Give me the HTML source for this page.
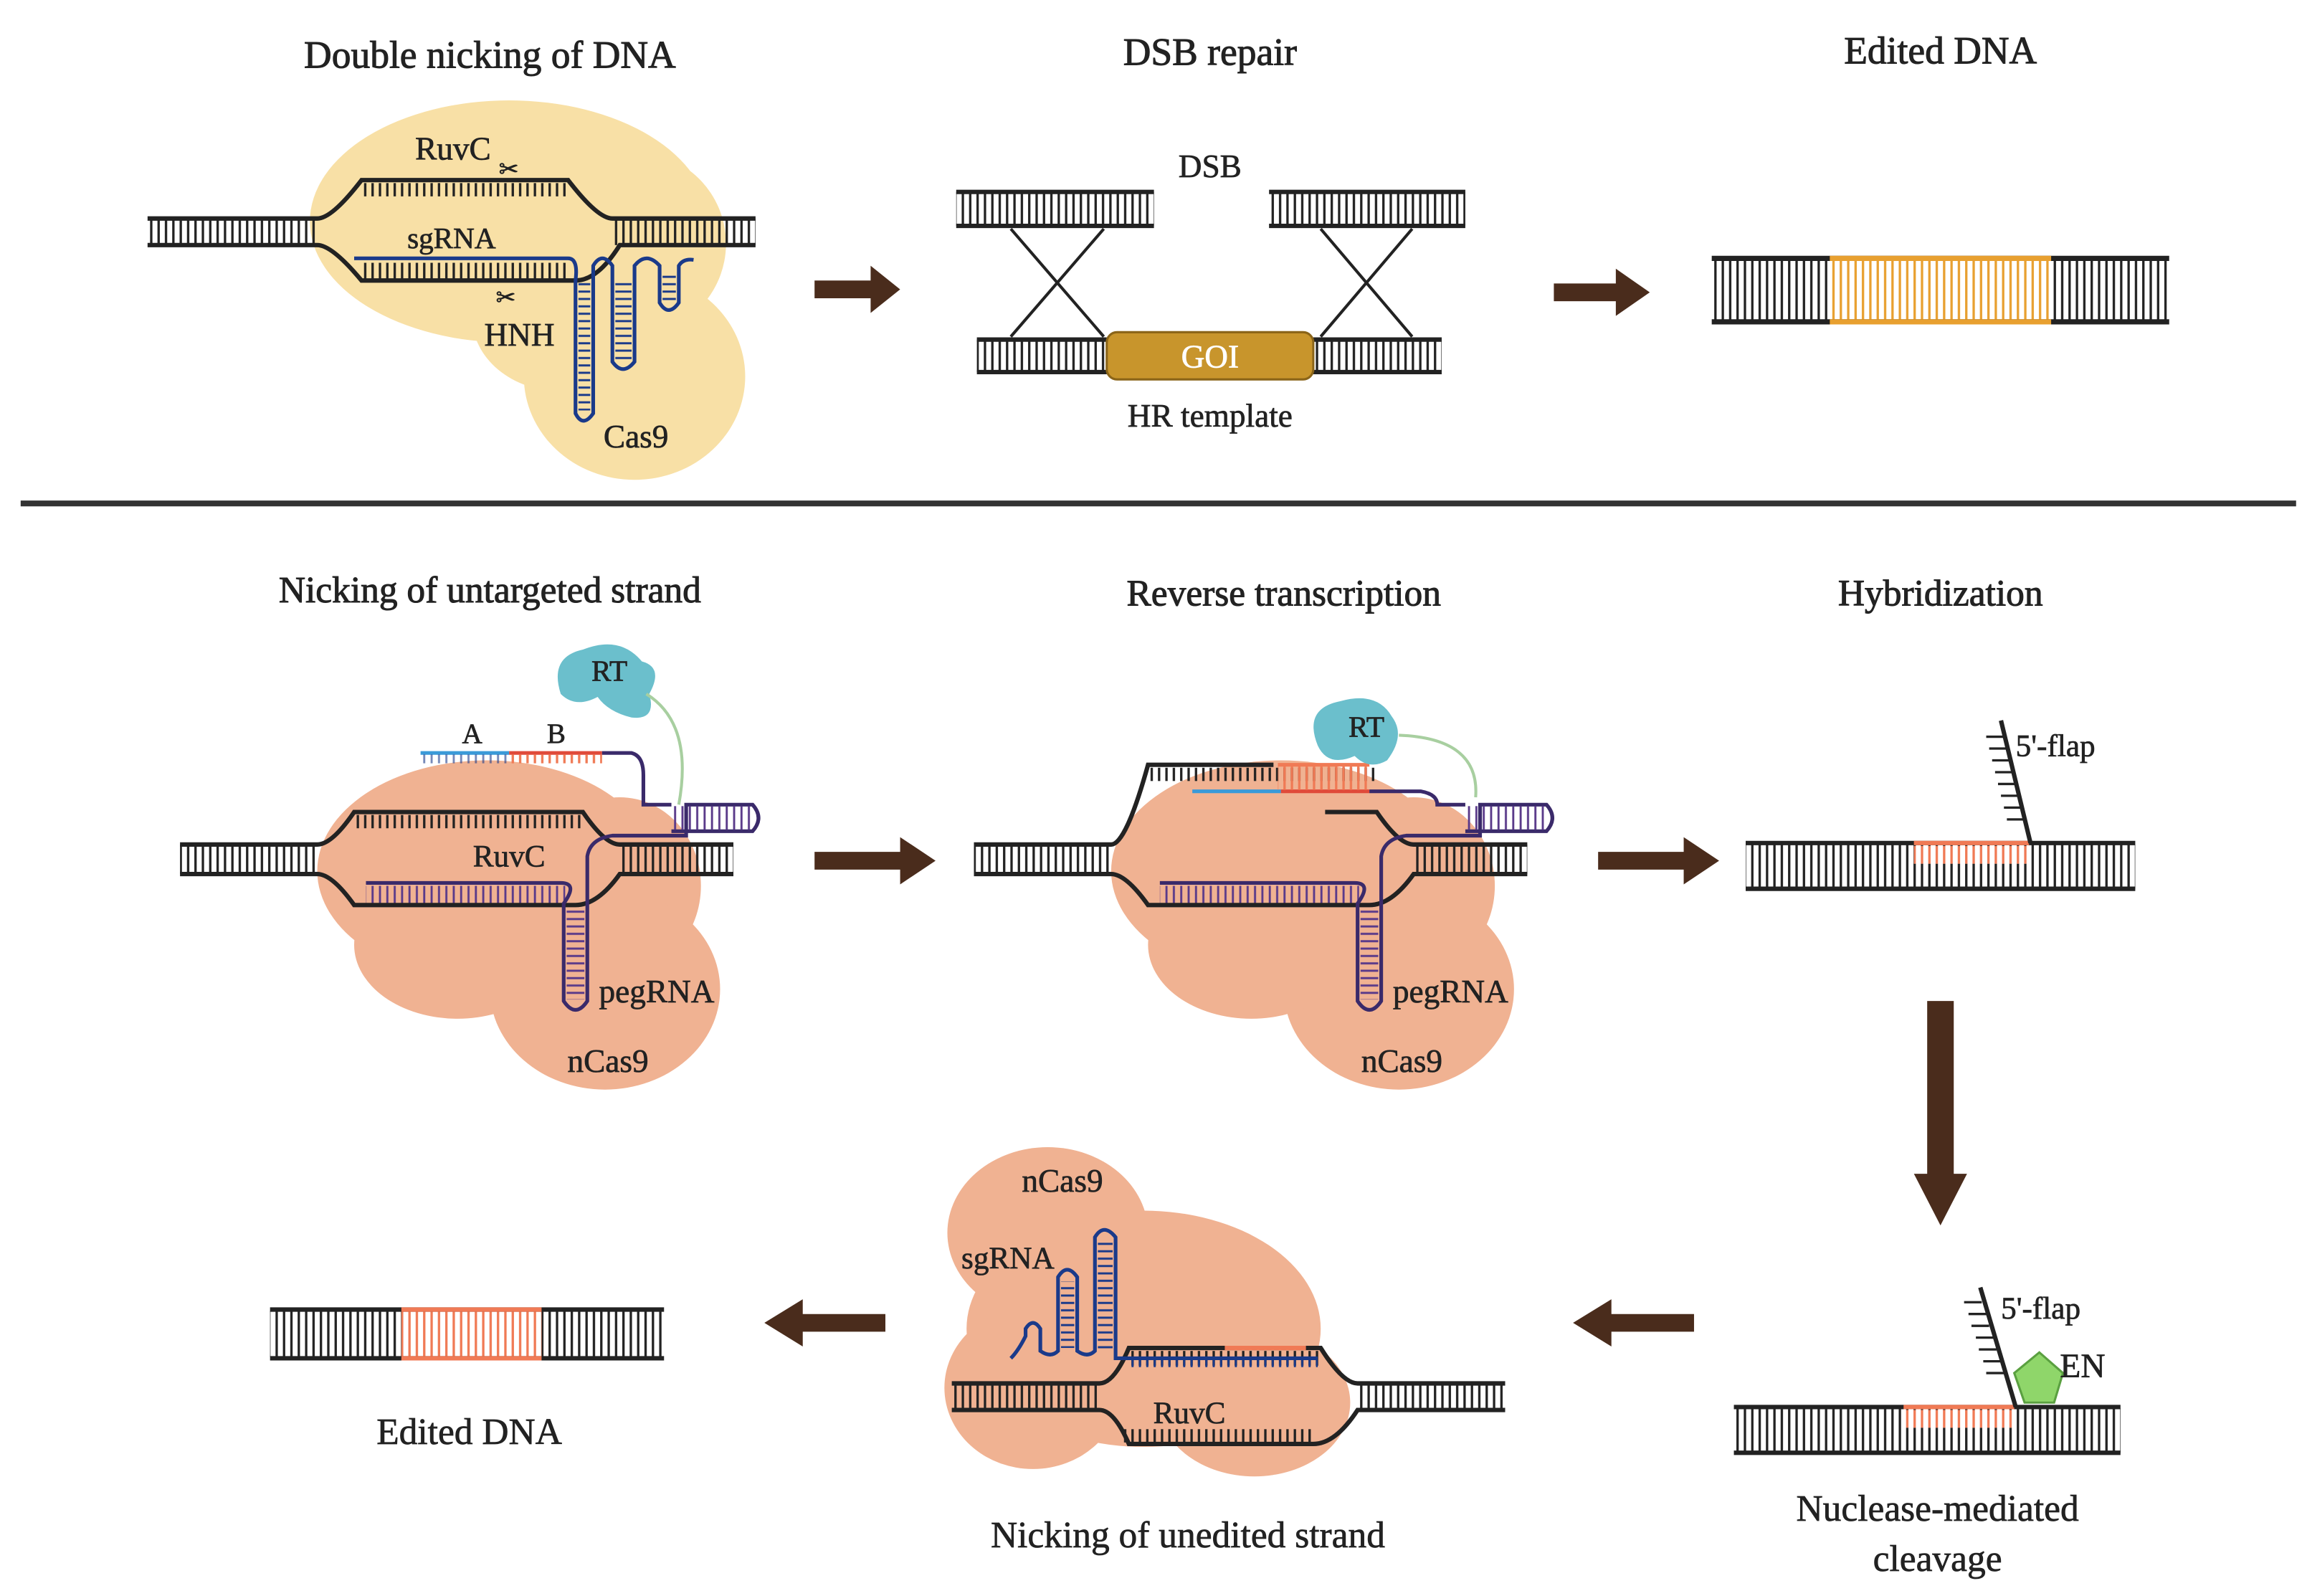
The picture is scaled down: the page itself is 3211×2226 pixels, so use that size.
<!DOCTYPE html>
<html><head><meta charset="utf-8"><style>
html,body{margin:0;padding:0;background:#fff;}
svg{display:block;}
text{font-family:"Liberation Serif",serif;fill:#222;stroke:#222;stroke-width:0.35;}
.t{font-size:26px;stroke-width:0.5;}
</style></head><body>
<svg width="3211" height="2226" viewBox="0 0 1560 1081" preserveAspectRatio="none" xmlns="http://www.w3.org/2000/svg">
<defs>
<pattern id="r" patternUnits="userSpaceOnUse" width="5" height="200"><line x1="2.5" y1="0" x2="2.5" y2="200" stroke="#222" stroke-width="1.6"/></pattern>
<pattern id="ro" patternUnits="userSpaceOnUse" width="5" height="200"><line x1="2.5" y1="0" x2="2.5" y2="200" stroke="#e8a030" stroke-width="1.6"/></pattern>
<pattern id="rr" patternUnits="userSpaceOnUse" width="5" height="200"><line x1="2.5" y1="0" x2="2.5" y2="200" stroke="#f07a55" stroke-width="1.6"/></pattern>
<pattern id="rb" patternUnits="userSpaceOnUse" width="5" height="200"><line x1="2.5" y1="0" x2="2.5" y2="200" stroke="#1a3a8a" stroke-width="1.4"/></pattern>
<pattern id="rp" patternUnits="userSpaceOnUse" width="5" height="200"><line x1="2.5" y1="0" x2="2.5" y2="200" stroke="#5a3a8a" stroke-width="1.4"/></pattern>
<pattern id="rh" patternUnits="userSpaceOnUse" width="200" height="5"><line x1="0" y1="2.5" x2="200" y2="2.5" stroke="#1a3a8a" stroke-width="1.4"/></pattern>
<pattern id="rhp" patternUnits="userSpaceOnUse" width="200" height="5"><line x1="0" y1="2.5" x2="200" y2="2.5" stroke="#5a3a8a" stroke-width="1.4"/></pattern>
</defs>

<!-- ===== TOP ===== -->
<text class="t" x="332" y="46" text-anchor="middle">Double nicking of DNA</text>
<text class="t" x="820" y="44" text-anchor="middle">DSB repair</text>
<text class="t" x="1315" y="43" text-anchor="middle">Edited DNA</text>

<g fill="#f8e0a6">
<ellipse cx="345" cy="150" rx="135" ry="82"/>
<ellipse cx="430" cy="165" rx="62" ry="62"/>
<ellipse cx="430" cy="255" rx="75" ry="70"/>
<ellipse cx="380" cy="215" rx="60" ry="50"/>
</g>
<rect x="100" y="148" width="115" height="18" fill="url(#r)"/>
<rect x="415" y="148" width="97" height="18" fill="url(#r)"/>
<rect x="245" y="124" width="140" height="9" fill="url(#r)"/>
<rect x="245" y="178" width="140" height="11" fill="url(#r)"/>
<path d="M100 148H215Q225 148 245 122H385Q405 148 415 148H512" fill="none" stroke="#222" stroke-width="3"/>
<path d="M100 166H215Q225 166 245 190H390Q405 190 420 166H512" fill="none" stroke="#222" stroke-width="3"/>
<path d="M240 175H385Q392 175 390 190V280Q395 290 402 280V180Q408 170 415 180V245Q422 255 430 245V180Q438 170 447 180V205Q453 215 460 205V180Q463 175 470 176" fill="none" stroke="#1a3a8a" stroke-width="2.5"/>
<rect x="392" y="190" width="8" height="88" fill="url(#rh)"/>
<rect x="417" y="190" width="11" height="55" fill="url(#rh)"/>
<rect x="449" y="185" width="9" height="20" fill="url(#rh)"/>
<text x="307" y="108" font-size="22" text-anchor="middle">RuvC</text>
<text x="306" y="168" font-size="20" text-anchor="middle">sgRNA</text>
<text x="352" y="234" font-size="22" text-anchor="middle">HNH</text>
<text x="431" y="303" font-size="22" text-anchor="middle">Cas9</text>
<text x="338" y="120" font-size="16" fill="#444">✂</text>
<text x="336" y="207" font-size="16" fill="#444">✂</text>

<polygon points="552,190 590,190 590,180 610,196 590,212 590,202 552,202" fill="#4a2c1c"/>
<polygon points="1053,192 1095,192 1095,182 1118,198 1095,214 1095,204 1053,204" fill="#4a2c1c"/>

<text x="820" y="120" font-size="22" text-anchor="middle">DSB</text>
<rect x="648" y="130" width="134" height="23" fill="url(#r)"/>
<line x1="648" y1="130" x2="782" y2="130" stroke="#222" stroke-width="3"/>
<line x1="648" y1="153" x2="782" y2="153" stroke="#222" stroke-width="3"/>
<rect x="860" y="130" width="133" height="23" fill="url(#r)"/>
<line x1="860" y1="130" x2="993" y2="130" stroke="#222" stroke-width="3"/>
<line x1="860" y1="153" x2="993" y2="153" stroke="#222" stroke-width="3"/>
<g stroke="#222" stroke-width="2">
<line x1="685" y1="155" x2="748" y2="228"/><line x1="748" y1="155" x2="685" y2="228"/>
<line x1="895" y1="155" x2="957" y2="228"/><line x1="957" y1="155" x2="895" y2="228"/>
</g>
<rect x="662" y="230" width="88" height="22" fill="url(#r)"/>
<line x1="662" y1="230" x2="750" y2="230" stroke="#222" stroke-width="3"/>
<line x1="662" y1="252" x2="750" y2="252" stroke="#222" stroke-width="3"/>
<rect x="890" y="230" width="87" height="22" fill="url(#r)"/>
<line x1="890" y1="230" x2="977" y2="230" stroke="#222" stroke-width="3"/>
<line x1="890" y1="252" x2="977" y2="252" stroke="#222" stroke-width="3"/>
<rect x="750" y="225" width="140" height="32" rx="7" fill="#c8952c" stroke="#8a6418" stroke-width="1.5"/>
<text x="820" y="249" font-size="22" text-anchor="middle" style="fill:#fff;stroke:#fff">GOI</text>
<text x="820" y="289" font-size="22" text-anchor="middle">HR template</text>

<rect x="1160" y="176" width="310" height="41" fill="url(#r)"/>
<rect x="1240" y="176" width="150" height="41" fill="#fff"/>
<rect x="1240" y="176" width="150" height="41" fill="url(#ro)"/>
<line x1="1160" y1="175" x2="1470" y2="175" stroke="#222" stroke-width="3.5"/>
<line x1="1160" y1="218" x2="1470" y2="218" stroke="#222" stroke-width="3.5"/>
<line x1="1240" y1="175" x2="1390" y2="175" stroke="#e8a030" stroke-width="3.5"/>
<line x1="1240" y1="218" x2="1390" y2="218" stroke="#e8a030" stroke-width="3.5"/>

<line x1="14" y1="341" x2="1556" y2="341" stroke="#333" stroke-width="4"/>

<!-- ===== BOTTOM ===== -->
<text class="t" x="332" y="408" font-size="25" text-anchor="middle" style="font-size:25px">Nicking of untargeted strand</text>
<text class="t" x="870" y="410" text-anchor="middle" style="font-size:25px">Reverse transcription</text>
<text class="t" x="1315" y="410" text-anchor="middle" style="font-size:25px">Hybridization</text>

<g>
<g fill="#f0b292">
<ellipse cx="330" cy="590" rx="115" ry="75"/>
<ellipse cx="420" cy="600" rx="55" ry="60"/>
<ellipse cx="410" cy="670" rx="78" ry="68"/>
<ellipse cx="310" cy="640" rx="70" ry="50"/>
</g>
<path d="M380 470Q372 445 395 440Q420 430 435 448Q450 452 440 470Q445 488 428 486Q412 482 405 472Q390 480 380 470Z" fill="#6bbfcc"/>
<path d="M438 470Q470 490 460 545" fill="none" stroke="#a8cfa0" stroke-width="2"/>
<rect x="122" y="572" width="93" height="20" fill="url(#r)"/>
<rect x="420" y="572" width="77" height="20" fill="url(#r)"/>
<rect x="240" y="552" width="155" height="9" fill="url(#r)"/>
<rect x="248" y="600" width="135" height="12" fill="url(#rp)"/>
<path d="M122 572H215Q225 572 240 550H395Q410 572 420 572H497" fill="none" stroke="#222" stroke-width="3"/>
<path d="M122 592H215Q225 592 240 613H390Q405 613 420 592H497" fill="none" stroke="#222" stroke-width="3"/>
<path d="M248 598H380Q392 598 382 612V678Q390 690 398 678V580Q400 568 415 566H465V545H510Q518 554 510 563H455" fill="none" stroke="#3a2a6a" stroke-width="2.5"/>
<rect x="384" y="615" width="12" height="62" fill="url(#rhp)"/>
<rect x="455" y="546" width="55" height="16" fill="url(#rp)"/>
<line x1="285" y1="510" x2="345" y2="510" stroke="#3a9ad8" stroke-width="2.5"/>
<line x1="345" y1="510" x2="408" y2="510" stroke="#e04a3a" stroke-width="2.5"/>
<rect x="285" y="511" width="60" height="6" fill="url(#rb)" opacity="0.6"/>
<rect x="345" y="511" width="63" height="6" fill="url(#rr)"/>
<path d="M408 510H428Q436 512 436 525V545H455" fill="none" stroke="#3a2a6a" stroke-width="2.5"/>
<text x="320" y="503" font-size="19" text-anchor="middle">A</text>
<text x="377" y="503" font-size="19" text-anchor="middle">B</text>
<text x="413" y="461" font-size="20" text-anchor="middle">RT</text>
<text x="345" y="587" font-size="21" text-anchor="middle">RuvC</text>
<text x="445" y="679" font-size="22" text-anchor="middle">pegRNA</text>
<text x="412" y="726" font-size="22" text-anchor="middle">nCas9</text>
</g>

<polygon points="552,577 610,577 610,567 634,583 610,599 610,589 552,589" fill="#4a2c1c"/>

<g transform="translate(538,0)">
<g fill="#f0b292">
<ellipse cx="330" cy="590" rx="115" ry="75"/>
<ellipse cx="420" cy="600" rx="55" ry="60"/>
<ellipse cx="410" cy="670" rx="78" ry="68"/>
<ellipse cx="310" cy="640" rx="70" ry="50"/>
</g>
<rect x="122" y="572" width="93" height="20" fill="url(#r)"/>
<rect x="420" y="572" width="77" height="20" fill="url(#r)"/>
<rect x="240" y="520" width="155" height="9" fill="url(#r)"/>
<rect x="248" y="600" width="135" height="12" fill="url(#rp)"/>
<path d="M122 572H215Q225 572 240 518H325" fill="none" stroke="#222" stroke-width="3"/>
<path d="M360 550H395Q410 572 420 572H497" fill="none" stroke="#222" stroke-width="3"/>
<path d="M122 592H215Q225 592 240 613H390Q405 613 420 592H497" fill="none" stroke="#222" stroke-width="3"/>
<path d="M248 598H380Q392 598 382 612V678Q390 690 398 678V580Q400 568 415 566H465V545H510Q518 554 510 563H455" fill="none" stroke="#3a2a6a" stroke-width="2.5"/>
<rect x="384" y="615" width="12" height="62" fill="url(#rhp)"/>
<rect x="455" y="546" width="55" height="16" fill="url(#rp)"/>
<line x1="270" y1="536" x2="330" y2="536" stroke="#3a9ad8" stroke-width="2.5"/>
<line x1="330" y1="536" x2="390" y2="536" stroke="#e04a3a" stroke-width="2.5"/>
<line x1="328" y1="518" x2="390" y2="518" stroke="#f07a55" stroke-width="2.5"/>
<rect x="328" y="519" width="62" height="16" fill="url(#rr)"/>
<path d="M390 536H425Q436 538 436 545H455" fill="none" stroke="#3a2a6a" stroke-width="2.5"/>
<path d="M355 505Q345 480 370 475Q395 468 405 485Q415 498 402 515Q390 522 380 512Q362 520 355 505Z" fill="#6bbfcc"/>
<path d="M410 498Q465 500 462 540" fill="none" stroke="#a8cfa0" stroke-width="2"/>
<text x="388" y="499" font-size="20" text-anchor="middle">RT</text>
<text x="445" y="679" font-size="22" text-anchor="middle">pegRNA</text>
<text x="412" y="726" font-size="22" text-anchor="middle">nCas9</text>
</g>

<polygon points="1083,577 1141,577 1141,567 1165,583 1141,599 1141,589 1083,589" fill="#4a2c1c"/>

<rect x="1183" y="572" width="264" height="30" fill="url(#r)"/>
<line x1="1183" y1="571" x2="1447" y2="571" stroke="#222" stroke-width="3"/>
<line x1="1183" y1="602" x2="1447" y2="602" stroke="#222" stroke-width="3"/>
<line x1="1297" y1="571" x2="1375" y2="571" stroke="#f07a55" stroke-width="3"/>
<rect x="1297" y="573" width="78" height="12" fill="#fff"/>
<rect x="1297" y="573" width="78" height="12" fill="url(#rr)"/>
<line x1="1376" y1="571" x2="1356" y2="488" stroke="#222" stroke-width="3"/>
<g stroke="#222" stroke-width="1.6">
<line x1="1372" y1="555" x2="1360" y2="555"/><line x1="1370" y1="547" x2="1358" y2="547"/><line x1="1368" y1="539" x2="1356" y2="539"/><line x1="1366" y1="531" x2="1354" y2="531"/><line x1="1364" y1="523" x2="1352" y2="523"/><line x1="1362" y1="515" x2="1350" y2="515"/><line x1="1360" y1="507" x2="1348" y2="507"/><line x1="1358" y1="499" x2="1346" y2="499"/>
</g>
<text x="1366" y="512" font-size="21">5'-flap</text>

<polygon points="1306,678 1324,678 1324,795 1333,795 1315,830 1297,795 1306,795" fill="#4a2c1c"/>

<rect x="1175" y="954" width="262" height="30" fill="url(#r)"/>
<line x1="1175" y1="953" x2="1437" y2="953" stroke="#222" stroke-width="3"/>
<line x1="1175" y1="984" x2="1437" y2="984" stroke="#222" stroke-width="3"/>
<line x1="1290" y1="953" x2="1365" y2="953" stroke="#f07a55" stroke-width="3"/>
<rect x="1290" y="955" width="75" height="12" fill="#fff"/>
<rect x="1290" y="955" width="75" height="12" fill="url(#rr)"/>
<line x1="1366" y1="953" x2="1342" y2="872" stroke="#222" stroke-width="3"/>
<g stroke="#222" stroke-width="1.6">
<line x1="1358" y1="930" x2="1346" y2="930"/><line x1="1356" y1="922" x2="1344" y2="922"/><line x1="1353" y1="914" x2="1341" y2="914"/><line x1="1351" y1="906" x2="1339" y2="906"/><line x1="1348" y1="898" x2="1336" y2="898"/><line x1="1346" y1="890" x2="1334" y2="890"/><line x1="1343" y1="882" x2="1331" y2="882"/>
</g>
<polygon points="1365,930 1382,916 1398,930 1392,950 1372,950" fill="#8fd66a" stroke="#5aa040" stroke-width="1.5"/>
<text x="1356" y="893" font-size="21">5'-flap</text>
<text x="1396" y="933" font-size="23">EN</text>
<text x="1313" y="1030" font-size="25" text-anchor="middle">Nuclease-mediated</text>
<text x="1313" y="1064" font-size="25" text-anchor="middle">cleavage</text>

<polygon points="1148,890 1092,890 1092,880 1066,896 1092,912 1092,902 1148,902" fill="#4a2c1c"/>

<g fill="#f0b292">
<ellipse cx="710" cy="835" rx="68" ry="58"/>
<ellipse cx="775" cy="900" rx="120" ry="80"/>
<ellipse cx="700" cy="940" rx="60" ry="55"/>
<ellipse cx="850" cy="950" rx="65" ry="50"/>
</g>
<rect x="645" y="937" width="100" height="18" fill="url(#r)"/>
<rect x="920" y="937" width="100" height="18" fill="url(#r)"/>
<rect x="765" y="915" width="130" height="10" fill="url(#r)"/>
<rect x="760" y="968" width="130" height="9" fill="url(#r)"/>
<path d="M645 937H745Q755 937 765 913H895Q910 937 920 937H1020" fill="none" stroke="#222" stroke-width="3"/>
<path d="M645 955H745Q755 955 765 978H890Q905 978 920 955H1020" fill="none" stroke="#222" stroke-width="3"/>
<line x1="830" y1="913" x2="885" y2="913" stroke="#f07a55" stroke-width="3"/>
<path d="M685 920Q690 915 695 905V900Q700 892 705 900V915Q712 920 717 915V865Q723 855 730 865V915Q737 920 742 915V838Q748 828 756 838V920H893" fill="none" stroke="#1a3a8a" stroke-width="2.5"/>
<rect x="719" y="868" width="9" height="45" fill="url(#rh)"/>
<rect x="744" y="840" width="10" height="75" fill="url(#rh)"/>
<rect x="765" y="921" width="128" height="5" fill="url(#rb)"/>
<text x="720" y="807" font-size="22" text-anchor="middle">nCas9</text>
<text x="683" y="859" font-size="21" text-anchor="middle">sgRNA</text>
<text x="806" y="964" font-size="21" text-anchor="middle">RuvC</text>
<text x="805" y="1048" font-size="25" text-anchor="middle">Nicking of unedited strand</text>

<polygon points="600,890 544,890 544,880 518,896 544,912 544,902 600,902" fill="#4a2c1c"/>

<rect x="183" y="888" width="267" height="31" fill="url(#r)"/>
<rect x="272" y="888" width="95" height="31" fill="#fff"/>
<rect x="272" y="888" width="95" height="31" fill="url(#rr)"/>
<line x1="183" y1="887" x2="450" y2="887" stroke="#222" stroke-width="3"/>
<line x1="183" y1="920" x2="450" y2="920" stroke="#222" stroke-width="3"/>
<line x1="272" y1="887" x2="367" y2="887" stroke="#f07a55" stroke-width="3"/>
<line x1="272" y1="920" x2="367" y2="920" stroke="#f07a55" stroke-width="3"/>
<text x="318" y="978" font-size="25" text-anchor="middle">Edited DNA</text>
</svg>
</body></html>
